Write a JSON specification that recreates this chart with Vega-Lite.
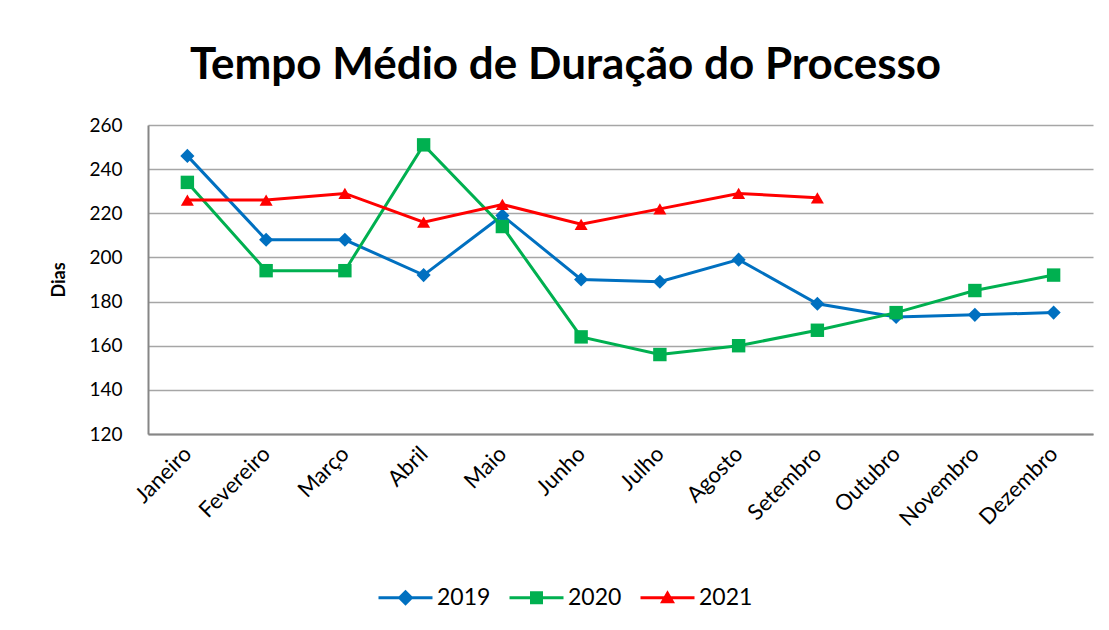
{
  "$schema": "https://vega.github.io/schema/vega-lite/v6.json",
  "width": 945,
  "height": 309,
  "autosize": "none",
  "padding": {"left": 148, "top": 125, "right": 16, "bottom": 196},
  "background": "white",
  "title": {
    "text": "Tempo Médio de Duração do Processo",
    "font": "Lato",
    "fontSize": 44,
    "fontWeight": "bold",
    "color": "black",
    "anchor": "middle",
    "frame": "group",
    "dx": -55,
    "offset": 28
  },
  "data": {
    "values": [
      {"mes": "Janeiro", "ano": "2019", "dias": 246},
      {"mes": "Fevereiro", "ano": "2019", "dias": 208},
      {"mes": "Março", "ano": "2019", "dias": 208},
      {"mes": "Abril", "ano": "2019", "dias": 192},
      {"mes": "Maio", "ano": "2019", "dias": 219},
      {"mes": "Junho", "ano": "2019", "dias": 190},
      {"mes": "Julho", "ano": "2019", "dias": 189},
      {"mes": "Agosto", "ano": "2019", "dias": 199},
      {"mes": "Setembro", "ano": "2019", "dias": 179},
      {"mes": "Outubro", "ano": "2019", "dias": 173},
      {"mes": "Novembro", "ano": "2019", "dias": 174},
      {"mes": "Dezembro", "ano": "2019", "dias": 175},
      {"mes": "Janeiro", "ano": "2020", "dias": 234},
      {"mes": "Fevereiro", "ano": "2020", "dias": 194},
      {"mes": "Março", "ano": "2020", "dias": 194},
      {"mes": "Abril", "ano": "2020", "dias": 251},
      {"mes": "Maio", "ano": "2020", "dias": 214},
      {"mes": "Junho", "ano": "2020", "dias": 164},
      {"mes": "Julho", "ano": "2020", "dias": 156},
      {"mes": "Agosto", "ano": "2020", "dias": 160},
      {"mes": "Setembro", "ano": "2020", "dias": 167},
      {"mes": "Outubro", "ano": "2020", "dias": 175},
      {"mes": "Novembro", "ano": "2020", "dias": 185},
      {"mes": "Dezembro", "ano": "2020", "dias": 192},
      {"mes": "Janeiro", "ano": "2021", "dias": 226},
      {"mes": "Fevereiro", "ano": "2021", "dias": 226},
      {"mes": "Março", "ano": "2021", "dias": 229},
      {"mes": "Abril", "ano": "2021", "dias": 216},
      {"mes": "Maio", "ano": "2021", "dias": 224},
      {"mes": "Junho", "ano": "2021", "dias": 215},
      {"mes": "Julho", "ano": "2021", "dias": 222},
      {"mes": "Agosto", "ano": "2021", "dias": 229},
      {"mes": "Setembro", "ano": "2021", "dias": 227}
    ]
  },
  "encoding": {
    "x": {
      "field": "mes",
      "type": "nominal",
      "sort": ["Janeiro", "Fevereiro", "Março", "Abril", "Maio", "Junho", "Julho", "Agosto", "Setembro", "Outubro", "Novembro", "Dezembro"],
      "scale": {"type": "point", "padding": 0.5},
      "axis": {
        "title": null,
        "labelAngle": -45,
        "labelAlign": "right",
        "labelBaseline": "middle",
        "labelFont": "Lato",
        "labelFontSize": 22,
        "labelColor": "black",
        "labelPadding": 16,
        "labelLimit": 300,
        "ticks": false,
        "grid": false,
        "domainColor": "#868686",
        "domainWidth": 2
      }
    },
    "y": {
      "field": "dias",
      "type": "quantitative",
      "scale": {"domain": [120, 260], "nice": false, "zero": false},
      "axis": {
        "title": "Dias",
        "titleFont": "Lato",
        "titleFontSize": 18,
        "titleFontWeight": "bold",
        "titleColor": "black",
        "titlePadding": 20,
        "values": [120, 140, 160, 180, 200, 220, 240, 260],
        "labelFont": "Lato",
        "labelFontSize": 19,
        "labelColor": "black",
        "labelPadding": 26,
        "ticks": false,
        "grid": true,
        "gridColor": "#a6a6a6",
        "gridWidth": 1.5,
        "domainColor": "#868686",
        "domainWidth": 2
      }
    }
  },
  "layer": [
    {
      "mark": {"type": "line", "strokeWidth": 3},
      "encoding": {
        "color": {
          "field": "ano",
          "type": "nominal",
          "scale": {"domain": ["2019", "2020", "2021"], "range": ["#0070C0", "#00B050", "#FF0000"]},
          "legend": {
            "title": null,
            "orient": "none",
            "legendX": 246,
            "legendY": 461,
            "direction": "horizontal",
            "labelFont": "Lato",
            "labelFontSize": 23,
            "labelColor": "black",
            "labelOffset": 20,
            "symbolSize": 100,
            "symbolStrokeWidth": 0,
            "columnPadding": 18,
            "encode": {
              "symbols": {
                "update": {
                  "shape": {"signal": "datum.value === '2019' ? 'M-5.4,-0.3L5.4,-0.3L5.4,0.3L-5.4,0.3Z M0,-1.6L1.6,0L0,1.6L-1.6,0Z' : datum.value === '2020' ? 'M-5.4,-0.3L5.4,-0.3L5.4,0.3L-5.4,0.3Z M-1.3,-1.3L1.3,-1.3L1.3,1.3L-1.3,1.3Z' : 'M-5.4,-0.3L5.4,-0.3L5.4,0.3L-5.4,0.3Z M0,-1.5L1.5,1.1L-1.5,1.1Z'"},
                  "fill": {"scale": "color", "field": "value"},
                  "stroke": {"value": "transparent"},
                  "strokeWidth": {"value": 0},
                  "opacity": {"value": 1}
                }
              }
            }
          }
        }
      }
    },
    {
      "transform": [{"filter": "datum.ano === '2019'"}],
      "mark": {"type": "point", "shape": "diamond", "size": 200, "filled": true, "opacity": 1, "color": "#0070C0"}
    },
    {
      "transform": [{"filter": "datum.ano === '2020'"}],
      "mark": {"type": "point", "shape": "square", "size": 180, "filled": true, "opacity": 1, "color": "#00B050"}
    },
    {
      "transform": [{"filter": "datum.ano === '2021'"}],
      "mark": {"type": "point", "shape": "triangle-up", "size": 170, "filled": true, "opacity": 1, "color": "#FF0000"}
    }
  ],
  "config": {"view": {"stroke": null}}
}
